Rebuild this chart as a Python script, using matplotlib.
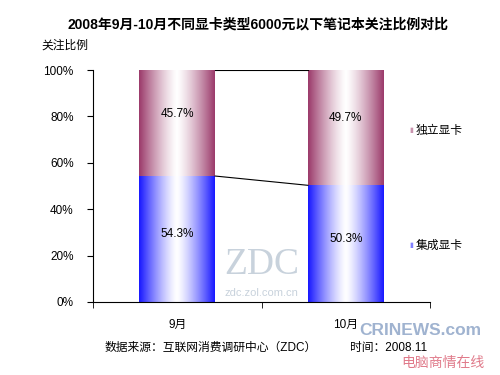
import numpy as np
import matplotlib
matplotlib.use("Agg")
import matplotlib.pyplot as plt
from matplotlib.colors import to_rgb

plt.rcParams['font.family'] = ['Liberation Sans', 'Noto Sans CJK SC', 'DejaVu Sans']

categories = ['9月', '10月']
integrated = [54.3, 50.3]
discrete = [45.7, 49.7]
series_names = ['集成显卡', '独立显卡']
yticks = [0, 20, 40, 60, 80, 100]
ytick_labels = ['0%', '20%', '40%', '60%', '80%', '100%']

blue_edge = to_rgb('#1a1aff')
mag_edge = to_rgb('#9c3c6c')

fig = plt.figure(figsize=(5, 3.75), dpi=100)
ax = fig.add_axes([0.186, 0.195, 0.674, 0.618])
x = np.arange(len(categories))
width = 0.45

def gradient_img(edge):
    t = np.linspace(-1, 1, 64)
    w = 1 - np.abs(t) ** 1.3
    edge = np.array(edge)
    cols = edge[None, :] * (1 - w[:, None]) + np.ones(3)[None, :] * w[:, None]
    return cols[None, :, :]

bars_b = ax.bar(x, integrated, width, color='none')
bars_m = ax.bar(x, discrete, width, bottom=integrated, color='none')
for bars, edge in [(bars_b, blue_edge), (bars_m, mag_edge)]:
    for b in bars:
        x0, y0 = b.get_x(), b.get_y()
        ax.imshow(gradient_img(edge), extent=[x0, x0 + b.get_width(), y0, y0 + b.get_height()],
                  aspect='auto', interpolation='bilinear', zorder=2)

# series lines between bars
for i in range(len(categories) - 1):
    ax.plot([x[i] + width / 2, x[i + 1] - width / 2], [integrated[i], integrated[i + 1]],
            color='black', lw=0.8, zorder=3)
    top_i = integrated[i] + discrete[i]
    top_j = integrated[i + 1] + discrete[i + 1]
    ax.plot([x[i] + width / 2, x[i + 1] - width / 2], [top_i, top_j],
            color='black', lw=0.8, zorder=3)

for i in range(len(categories)):
    ax.text(x[i], integrated[i] / 2 + 2, f'{integrated[i]:.1f}%', ha='center', va='center', fontsize=8.5, zorder=4)
    ax.text(x[i], integrated[i] + discrete[i] / 2 + 4, f'{discrete[i]:.1f}%', ha='center', va='center', fontsize=8.5, zorder=4)

ax.set_xlim(-0.5, 1.5)
ax.set_ylim(0, 100)
ax.set_yticks(yticks)
ax.set_yticklabels(ytick_labels, fontsize=8.5)
ax.set_xticks(x)
ax.set_xticklabels(categories, fontsize=8.5)
ax.set_xticks([-0.5, 0.5, 1.5], minor=True)
ax.tick_params(axis='x', which='major', length=0, pad=12)
ax.tick_params(axis='x', which='minor', length=4, direction='out')
ax.tick_params(axis='y', length=4, direction='out', pad=10)
for s in ['top', 'right']:
    ax.spines[s].set_visible(False)
ax.spines['left'].set_linewidth(0.8)
ax.spines['bottom'].set_linewidth(0.8)

# watermark
ax.text(0.5, 16, 'ZDC', ha='center', va='center', fontsize=27, family='Liberation Serif',
        color='#c8d2dc', zorder=5)
ax.text(0.5, 4, 'zdc.zol.com.cn', ha='center', va='center', fontsize=8, color='#c8d2dc', zorder=5)

fig.text(0.516, 0.935, '2008年9月-10月不同显卡类型6000元以下笔记本关注比例对比',
         ha='center', va='center', fontsize=10, fontweight='bold')
fig.text(0.082, 0.878, '关注比例', ha='left', va='center', fontsize=8.5)

# legend
legend_items = [(series_names[1], mag_edge, 0.651), (series_names[0], blue_edge, 0.344)]
for name, col, yy in legend_items:
    fig.text(0.822, yy, '▮', color=tuple(0.55 * np.array(col) + 0.45), fontsize=5, ha='center', va='center')
    fig.text(0.832, yy, name, fontsize=8.5, ha='left', va='center')

fig.text(0.21, 0.072, '数据来源：互联网消费调研中心（ZDC）', fontsize=8.5, ha='left', va='center')
fig.text(0.70, 0.072, '时间：2008.11', fontsize=8.5, ha='left', va='center')
fig.text(0.84, 0.118, 'CRINEWS.com', fontsize=12.5, fontweight='bold', color='#8fa6c8',
         ha='center', va='center', alpha=0.85)
fig.text(0.885, 0.032, '电脑商情在线', fontsize=10, color='#e07a8a', ha='center', va='center',
         style='italic')

fig.savefig('out.png', dpi=100, facecolor='white')
